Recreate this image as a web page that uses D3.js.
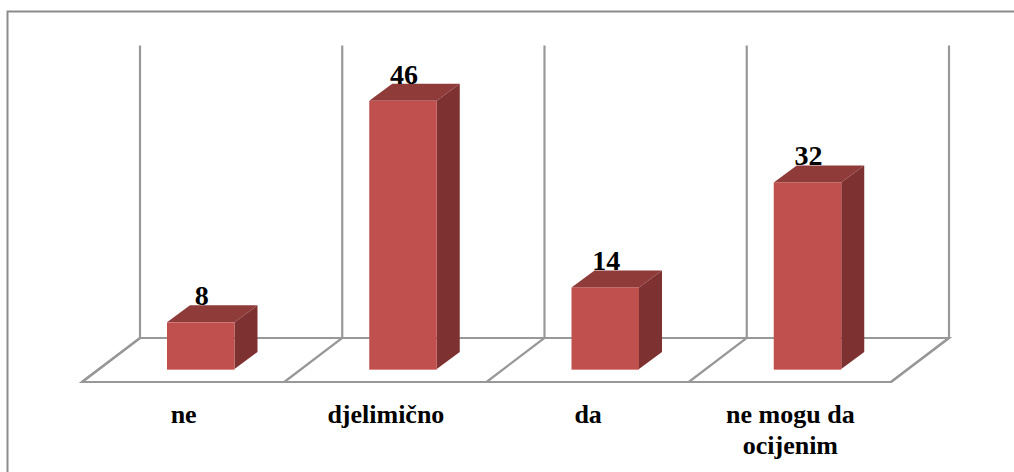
<!DOCTYPE html>
<html>
<head>
<meta charset="utf-8">
<script src="https://cdn.jsdelivr.net/npm/d3@7"></script>
<style>
  html, body { margin: 0; padding: 0; background: #fff; }
  svg { display: block; }
  text { font-family: "Liberation Serif", serif; font-weight: bold; fill: #000; }
</style>
</head>
<body>
<svg id="chart" width="1014" height="472"></svg>
<script>
const categories = ["ne", "djelimično", "da", "ne mogu da|ocijenim"];
const values = [8, 46, 14, 32];
const valueDomain = [0, 50];

const svg = d3.select("#chart");
const grey = "#989898";

// Frame of the chart area: only the top and left edges fall inside the page
svg.append("path")
  .attr("d", "M1014,11.5H7.5V472")
  .attr("fill", "none").attr("stroke", "#8c8c8c").attr("stroke-width", 2);

// Oblique projection: the floor recedes up and to the right
const depthX = 58, depthY = -44;
const x = d3.scaleBand().domain(categories).range([82, 891]).paddingInner(0).paddingOuter(0);
const barWidth = 67.5, barDepthX = 23, barDepthY = -17;
const frontBase = 369;
const y = d3.scaleLinear().domain(valueDomain).range([0, 291.5]);
const floorFront = 382, floorBack = floorFront + depthY;

const grid = svg.append("g")
  .attr("fill", "none").attr("stroke", grey).attr("stroke-width", 2.2);

// Floor outline and the back edge
grid.append("path").attr("d",
  `M${x.range()[0]},${floorFront}H${x.range()[1]}L${x.range()[1] + depthX},${floorBack}H${x.range()[0] + depthX}Z`);

// Category dividers running across the floor and up the back wall
const dividers = categories.map(c => x(c)).concat(x.range()[1]);
grid.selectAll("path.divider").data(dividers).join("path")
  .attr("class", "divider")
  .attr("d", d => `M${d},${floorFront}L${d + depthX},${floorBack}V${floorBack - y(valueDomain[1]) - 1}`);

// Each bar is three faces: front, top, side
const bars = svg.selectAll("g.bar").data(categories.map((c, i) => ({ c, v: values[i] }))).join("g")
  .attr("class", "bar");
const barLeft = d => x(d.c) + 85;
const barTop = d => frontBase - y(d.v);

bars.append("path").attr("fill", "#7d3231")
  .attr("d", d => `M${barLeft(d) + barWidth},${frontBase}V${barTop(d)}l${barDepthX},${barDepthY}V${frontBase + barDepthY}Z`);
bars.append("path").attr("fill", "#8f3b3a")
  .attr("d", d => `M${barLeft(d)},${barTop(d)}l${barDepthX},${barDepthY}h${barWidth}l${-barDepthX},${-barDepthY}Z`);
bars.append("rect").attr("fill", "#c0504d")
  .attr("x", barLeft).attr("y", barTop)
  .attr("width", barWidth).attr("height", d => y(d.v));

// Pale lower edge along the front face
bars.append("line").attr("stroke", "#de8a87").attr("stroke-width", 1)
  .attr("x1", barLeft).attr("x2", d => barLeft(d) + barWidth)
  .attr("y1", frontBase + 0.5).attr("y2", frontBase + 0.5);

// Value labels sit on the top face of each bar
bars.append("text")
  .attr("text-anchor", "middle").attr("font-size", 28)
  .attr("x", d => barLeft(d) + barWidth / 2 + 1)
  .attr("y", d => barTop(d) - 17)
  .text(d => d.v);

// Category labels, wrapped at the marked break
const labels = svg.selectAll("text.cat").data(categories).join("text")
  .attr("class", "cat")
  .attr("text-anchor", "middle").attr("font-size", 26)
  .attr("x", d => x(d) + x.bandwidth() / 2 + 0.5)
  .attr("y", 423);
labels.selectAll("tspan").data(d => d.split("|")).join("tspan")
  .attr("x", function () { return d3.select(this.parentNode).attr("x"); })
  .attr("dy", (d, i) => i ? 31 : 0)
  .text(d => d);
</script>
</body>
</html>
